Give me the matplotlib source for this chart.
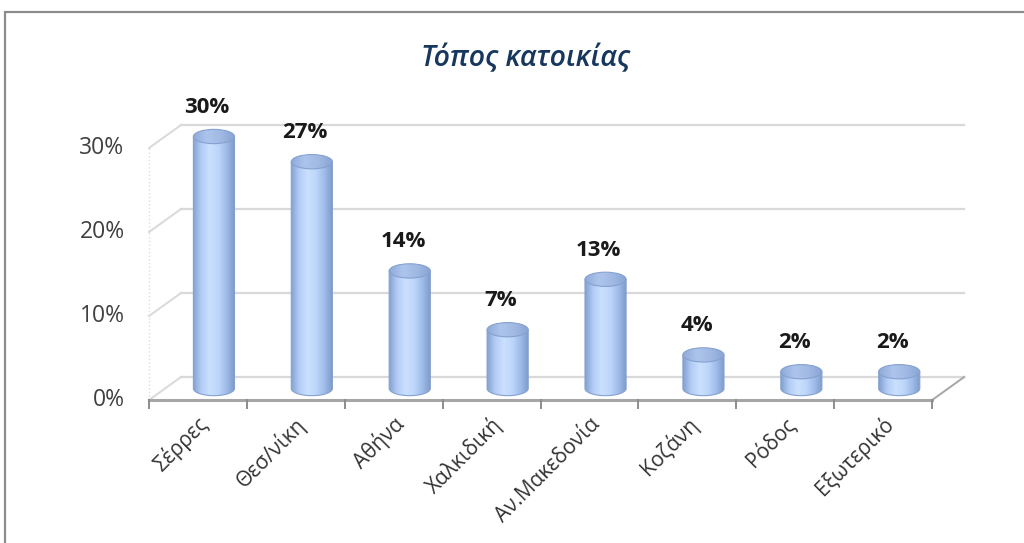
import numpy as np
import matplotlib
matplotlib.use('Agg')
import matplotlib.pyplot as plt
from matplotlib.patches import Ellipse, Polygon, Rectangle
from matplotlib.colors import LinearSegmentedColormap

places = ['Σέρρες', 'Θεσ/νίκη', 'Αθήνα', 'Χαλκιδική', 'Αν.Μακεδονία',
          'Κοζάνη', 'Ρόδος', 'Εξωτερικό']
shares = [30, 27, 14, 7, 13, 4, 2, 2]
yticks = [0, 10, 20, 30]
title = 'Τόπος κατοικίας'

plt.rcParams['font.family'] = ['Open Sans', 'DejaVu Sans']

fig = plt.figure(figsize=(10.24, 5.43), dpi=100)
ax = fig.add_axes([0, 0, 1, 1])
ax.set_axis_off()

# pseudo 3d depth offset in data units
dx, dy = 0.327, 2.74
x0, x1 = -0.5, len(places) - 0.5

# back wall gridlines + left wall
for t in yticks:
    ax.plot([x0 + dx, x1 + dx], [t + dy, t + dy], color='#d9d9d9', lw=1.6, zorder=1)
    ax.plot([x0, x0 + dx], [t, t + dy], color='#d9d9d9', lw=1.4, zorder=1)
ax.plot([x0, x0], [0, yticks[-1]], color='#dddddd', lw=1, ls=':', zorder=1)

# floor
ax.plot([x0, x1], [0, 0], color='#a6a6a6', lw=2.2, zorder=2)
ax.plot([x1, x1 + dx], [0, dy], color='#a6a6a6', lw=1.4, zorder=2)
for k in range(len(places) + 1):
    ax.plot([x0 + k, x0 + k], [0, -1.0], color='#8c8c8c', lw=1.4, zorder=2)

cmap_body = LinearSegmentedColormap.from_list(
    'body', ['#83a0d0', '#b3cdf5', '#cbe0fe', '#bdd6fa', '#9fbbe8', '#7c98c9'])
cmap_top = LinearSegmentedColormap.from_list(
    'top', ['#8eaad9', '#adc5ec', '#a0b9e3', '#88a3d3'])
grad = np.linspace(0, 1, 256).reshape(1, -1)

w = 0.21    # half width of a cylinder
b = 0.85    # half height of the ellipse
for i, v in enumerate(shares):
    cx = i + dx / 2
    yb = dy / 2
    yt = v + dy / 2
    th = np.linspace(np.pi, 2 * np.pi, 60)
    pts = [(cx - w, yt)] + [(cx + w * np.cos(a), yb + b * np.sin(a)) for a in th] + [(cx + w, yt)]
    body = Polygon(pts, closed=True, facecolor='none', edgecolor='#86a1d0', lw=0.8, zorder=4)
    ax.add_patch(body)
    im = ax.imshow(grad, cmap=cmap_body, extent=[cx - w, cx + w, yb - b, yt],
                   aspect='auto', zorder=3, interpolation='bilinear')
    im.set_clip_path(body)
    top = Ellipse((cx, yt), 2 * w, 2 * b, facecolor='none', edgecolor='#86a1d0', lw=0.8, zorder=6)
    ax.add_patch(top)
    im2 = ax.imshow(grad, cmap=cmap_top, extent=[cx - w, cx + w, yt - b, yt + b],
                    aspect='auto', zorder=5, interpolation='bilinear')
    im2.set_clip_path(top)
    ax.text(cx - 0.07, yt + 2.2, f'{v}%', ha='center', va='bottom', fontsize=16,
            fontweight='bold', color='#1a1a1a', zorder=7)

for t in yticks:
    ax.text(x0 - 0.25, t, f'{t}%', ha='right', va='center', fontsize=16.5, color='#404040')

for i, name in enumerate(places):
    ax.text(i + 0.07, -2.5, name, rotation=45, rotation_mode='anchor', ha='right',
            va='center', fontsize=15, color='#333333')

ax.text(3.35, 40.6, title, ha='center', va='center', fontsize=20.5, style='italic',
        fontweight='semibold', color='#17375e')

# chart border
fig.patches.append(Rectangle((5 / 1024, -0.1), 1.2, 1.1 - 12 / 543, transform=fig.transFigure,
                             fill=False, edgecolor='#8c8c8c', lw=1.6))

# data limits chosen so the pixels line up with the reference
ax.set_xlim(-2.022, 8.438)
ax.set_ylim(-17.02, 47.62)

fig.savefig('out.png', dpi=100)
